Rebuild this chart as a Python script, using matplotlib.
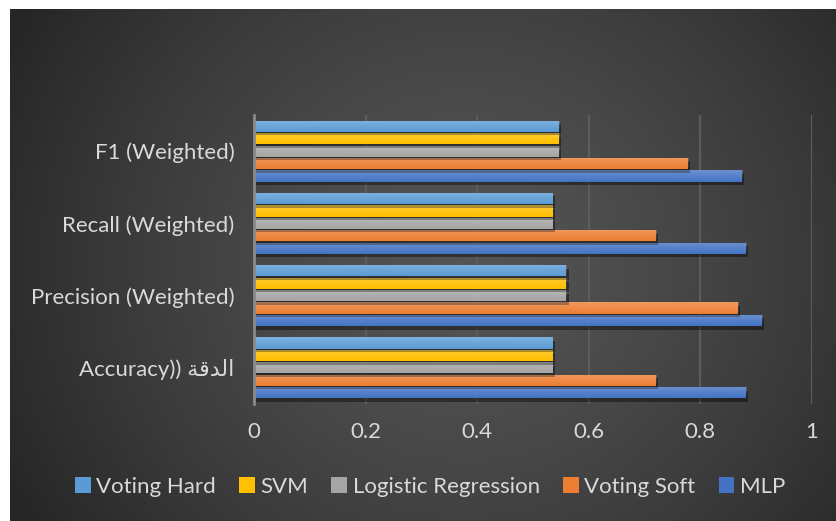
import numpy as np
import matplotlib
matplotlib.use("Agg")
import matplotlib.pyplot as plt
import matplotlib.patheffects as pe

# matplotlib does no Arabic shaping, so the word is given in its
# presentation forms, already in display order
arabic_accuracy = "\ufe94\ufed7\ufeaa\ufedf\ufe8d"

categories = ["Accuracy)) " + arabic_accuracy, "Precision (Weighted)",
              "Recall (Weighted)", "F1 (Weighted)"]

# series listed bottom to top inside each group
series_names = ["MLP", "Voting Soft", "Logistic Regression", "SVM", "Voting Hard"]
mlp = [0.882, 0.911, 0.882, 0.875]
voting_soft = [0.721, 0.868, 0.721, 0.778]
logistic_regression = [0.535, 0.560, 0.535, 0.547]
svm = [0.535, 0.560, 0.535, 0.547]
voting_hard = [0.535, 0.560, 0.535, 0.547]
series_values = [mlp, voting_soft, logistic_regression, svm, voting_hard]
series_colors = ["#4472C4", "#ED7D31", "#A5A5A5", "#FFC000", "#5B9BD5"]

x_ticks = [0, 0.2, 0.4, 0.6, 0.8, 1]
x_ticklabels = ["0", "0.2", "0.4", "0.6", "0.8", "1"]

FONT = ["Lato", "DejaVu Sans"]
FONT_SIZE = 16
TEXT_COLOR = "#d9d9d9"

W, H = 837, 521
fig = plt.figure(figsize=(W / 100, H / 100), dpi=100)
fig.patch.set_facecolor("white")

# radial gradient background of the chart area
bg = fig.add_axes([10 / W, 0, (W - 10) / W, (H - 9) / H], zorder=0)
bg.set_axis_off()
gx, gy = np.meshgrid(np.linspace(0, 1, 400), np.linspace(0, 1, 260))
r = np.sqrt(((gx - 0.55) / 0.62) ** 2 + ((gy - 0.5) / 0.95) ** 2)
r = np.clip(r, 0, 1)
shade = 0.33 - 0.18 * r ** 1.4
bg.imshow(np.dstack([shade] * 3), aspect="auto", extent=[0, 1, 0, 1],
          interpolation="bilinear")
bg.set_xlim(0, 1)
bg.set_ylim(0, 1)

ax = fig.add_axes([254 / W, 1 - 404 / H, (812 - 254) / W, (404 - 115) / H], zorder=1)
ax.patch.set_alpha(0)

y = np.arange(len(categories))
bar_h = 0.172
shadow = [pe.SimplePatchShadow(offset=(1.5, -2.5), shadow_rgbFace="black", alpha=0.4),
          pe.Normal()]
# vertical shine: lighter at the top edge of each bar
shine = np.zeros((32, 2, 4))
shine[..., :3] = 1.0
shine[..., 3] = np.linspace(0.22, 0.0, 32)[:, None]
for i, (name, vals, col) in enumerate(zip(series_names, series_values, series_colors)):
    offs = (i - 2) * bar_h
    bars = ax.barh(y + offs, vals, height=bar_h * 0.9, color=col, label=name,
                   zorder=3)
    for b in bars:
        b.set_path_effects(shadow)
        x0, y0 = b.get_x(), b.get_y()
        im = ax.imshow(shine, extent=[x0, x0 + b.get_width(), y0, y0 + b.get_height()],
                       origin="upper", aspect="auto", zorder=3.5,
                       interpolation="bilinear")
        im.set_clip_path(b)

ax.set_xlim(0, 1)
ax.set_ylim(-0.5, len(categories) - 0.5)
ax.set_xticks(x_ticks)
ax.set_xticklabels(x_ticklabels)
ax.set_yticks(y)
ax.set_yticklabels(categories)
ax.tick_params(length=0, colors=TEXT_COLOR, labelsize=FONT_SIZE)
ax.tick_params(axis="x", pad=13)
ax.tick_params(axis="y", pad=14)
for lbl in ax.get_xticklabels() + ax.get_yticklabels():
    lbl.set_family(FONT)
    lbl.set_color(TEXT_COLOR)

for v in x_ticks[1:]:
    ax.axvline(v, color="#5c5c5c", lw=1.6, zorder=1)
for s in ["top", "right", "bottom"]:
    ax.spines[s].set_visible(False)
ax.spines["left"].set_color("#8a8a8a")
ax.spines["left"].set_linewidth(2)
ax.spines["left"].set_zorder(4)

handles, labels = ax.get_legend_handles_labels()
leg = fig.legend(handles[::-1], labels[::-1], loc="center",
                 bbox_to_anchor=(430 / W, 1 - 487 / H), ncol=5, frameon=False,
                 handlelength=0.7, handleheight=0.7, handletextpad=0.25,
                 columnspacing=1.05, prop={"family": FONT, "size": FONT_SIZE})
for t in leg.get_texts():
    t.set_color(TEXT_COLOR)
for hdl in leg.legend_handles:
    hdl.set_path_effects([])

fig.savefig("out.png", dpi=100)
